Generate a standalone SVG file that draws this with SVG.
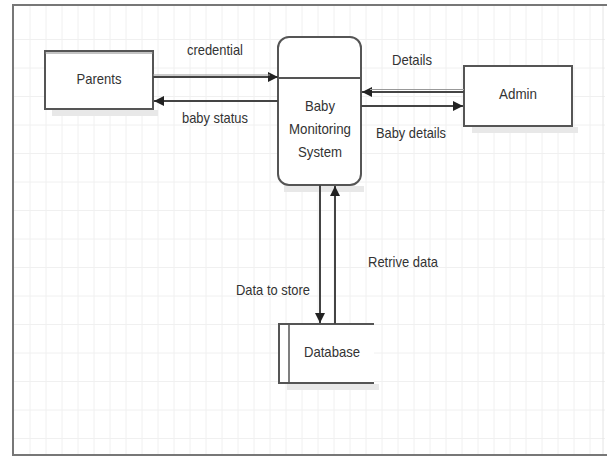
<svg xmlns="http://www.w3.org/2000/svg" width="607" height="460" viewBox="0 0 607 460">
<style>
.grid line{stroke:#f0f0f0;stroke-width:1}
.box{fill:#fff;stroke:#555;stroke-width:2}
.shadow{fill:#e8e8e8}
.lbl{font-family:"Liberation Sans",Arial,sans-serif;font-size:15px;fill:#333;text-anchor:middle}
.conn{stroke:#444;stroke-width:2;fill:none}
</style>
<defs>
<marker id="ah" viewBox="0 0 10 10" refX="10" refY="5" markerWidth="5" markerHeight="5" orient="auto" markerUnits="strokeWidth">
<path d="M0,0 L10,5 L0,10 z" fill="#222"/>
</marker>
</defs>
<rect x="0" y="0" width="607" height="460" fill="#fff"/>
<g class="grid">
<line x1="30" y1="6" x2="30" y2="454"/><line x1="46" y1="6" x2="46" y2="454"/><line x1="62" y1="6" x2="62" y2="454"/><line x1="78" y1="6" x2="78" y2="454"/><line x1="94" y1="6" x2="94" y2="454"/><line x1="110" y1="6" x2="110" y2="454"/><line x1="126" y1="6" x2="126" y2="454"/><line x1="142" y1="6" x2="142" y2="454"/><line x1="158" y1="6" x2="158" y2="454"/><line x1="174" y1="6" x2="174" y2="454"/><line x1="190" y1="6" x2="190" y2="454"/><line x1="206" y1="6" x2="206" y2="454"/><line x1="222" y1="6" x2="222" y2="454"/><line x1="238" y1="6" x2="238" y2="454"/><line x1="254" y1="6" x2="254" y2="454"/><line x1="270" y1="6" x2="270" y2="454"/><line x1="286" y1="6" x2="286" y2="454"/><line x1="302" y1="6" x2="302" y2="454"/><line x1="318" y1="6" x2="318" y2="454"/><line x1="334" y1="6" x2="334" y2="454"/><line x1="350" y1="6" x2="350" y2="454"/><line x1="366" y1="6" x2="366" y2="454"/><line x1="382" y1="6" x2="382" y2="454"/><line x1="398" y1="6" x2="398" y2="454"/><line x1="414" y1="6" x2="414" y2="454"/><line x1="430" y1="6" x2="430" y2="454"/><line x1="446" y1="6" x2="446" y2="454"/><line x1="462" y1="6" x2="462" y2="454"/><line x1="478" y1="6" x2="478" y2="454"/><line x1="494" y1="6" x2="494" y2="454"/><line x1="510" y1="6" x2="510" y2="454"/><line x1="526" y1="6" x2="526" y2="454"/><line x1="542" y1="6" x2="542" y2="454"/><line x1="558" y1="6" x2="558" y2="454"/><line x1="574" y1="6" x2="574" y2="454"/><line x1="590" y1="6" x2="590" y2="454"/>
<line x1="14" y1="39.5" x2="605" y2="39.5"/><line x1="14" y1="68" x2="605" y2="68"/><line x1="14" y1="96.5" x2="605" y2="96.5"/><line x1="14" y1="125" x2="605" y2="125"/><line x1="14" y1="153.5" x2="605" y2="153.5"/><line x1="14" y1="182" x2="605" y2="182"/><line x1="14" y1="210.5" x2="605" y2="210.5"/><line x1="14" y1="239" x2="605" y2="239"/><line x1="14" y1="267.5" x2="605" y2="267.5"/><line x1="14" y1="296" x2="605" y2="296"/><line x1="14" y1="324.5" x2="605" y2="324.5"/><line x1="14" y1="353" x2="605" y2="353"/><line x1="14" y1="381.5" x2="605" y2="381.5"/><line x1="14" y1="410" x2="605" y2="410"/><line x1="14" y1="438.5" x2="605" y2="438.5"/>
</g>
<path d="M607,5 H13 V455 H607" fill="none" stroke="#777" stroke-width="2"/>
<line x1="603" y1="6" x2="603" y2="454" stroke="#e4e4e4" stroke-width="1"/>

<g id="parents">
<rect class="shadow" x="52" y="110" width="106" height="6"/>
<rect class="box" x="45" y="51" width="108" height="58"/>
<line x1="45" y1="53" x2="153" y2="53" stroke="#888" stroke-width="1"/>
<text class="lbl" x="99" y="84" textLength="45" lengthAdjust="spacingAndGlyphs">Parents</text>
</g>

<g id="system">
<rect class="shadow" x="284" y="186" width="80" height="6"/>
<rect class="box" x="278" y="37" width="83" height="148" rx="11" ry="11"/>
<line x1="278" y1="78" x2="361" y2="78" stroke="#555" stroke-width="2"/>
<text class="lbl" x="320" y="111" textLength="30" lengthAdjust="spacingAndGlyphs">Baby</text>
<text class="lbl" x="320" y="134" textLength="62" lengthAdjust="spacingAndGlyphs">Monitoring</text>
<text class="lbl" x="320" y="157" textLength="44" lengthAdjust="spacingAndGlyphs">System</text>
</g>

<g id="admin">
<rect class="shadow" x="472" y="127" width="106" height="6"/>
<rect class="box" x="464" y="66" width="108" height="60"/>
<text class="lbl" x="518" y="99" textLength="38" lengthAdjust="spacingAndGlyphs">Admin</text>
</g>

<g id="database">
<rect class="shadow" x="287" y="384" width="92" height="6"/>
<rect x="279" y="324" width="95" height="59" fill="#fff"/>
<path d="M374,324 H279 V383 H374" fill="none" stroke="#555" stroke-width="2"/>
<line x1="289" y1="324" x2="289" y2="383" stroke="#555" stroke-width="1.5"/>
<text class="lbl" x="332" y="357" textLength="56" lengthAdjust="spacingAndGlyphs">Database</text>
</g>

<g id="connectors">
<line class="conn" x1="153" y1="77" x2="278" y2="77" marker-end="url(#ah)"/>
<line x1="153" y1="75" x2="270" y2="75" stroke="#999" stroke-width="1"/>
<line class="conn" x1="278" y1="101" x2="154" y2="101" marker-end="url(#ah)"/>
<line class="conn" x1="464" y1="92" x2="362" y2="92" marker-end="url(#ah)"/>
<line x1="370" y1="89.5" x2="464" y2="89.5" stroke="#999" stroke-width="1"/>
<line class="conn" x1="361" y1="106" x2="463" y2="106" marker-end="url(#ah)"/>
<line class="conn" x1="320" y1="185" x2="320" y2="323" stroke-width="1.6" marker-end="url(#ah)"/>
<line class="conn" x1="335" y1="324" x2="335" y2="186" stroke-width="1.6" marker-end="url(#ah)"/>
<text class="lbl" x="215" y="55" textLength="56" lengthAdjust="spacingAndGlyphs">credential</text>
<text class="lbl" x="215" y="123" textLength="66" lengthAdjust="spacingAndGlyphs">baby status</text>
<text class="lbl" x="412" y="65" textLength="40" lengthAdjust="spacingAndGlyphs">Details</text>
<text class="lbl" x="411" y="138" textLength="70" lengthAdjust="spacingAndGlyphs">Baby details</text>
<text class="lbl" x="403" y="267" textLength="70" lengthAdjust="spacingAndGlyphs">Retrive data</text>
<text class="lbl" x="273" y="295" textLength="74" lengthAdjust="spacingAndGlyphs">Data to store</text>
</g>
</svg>
